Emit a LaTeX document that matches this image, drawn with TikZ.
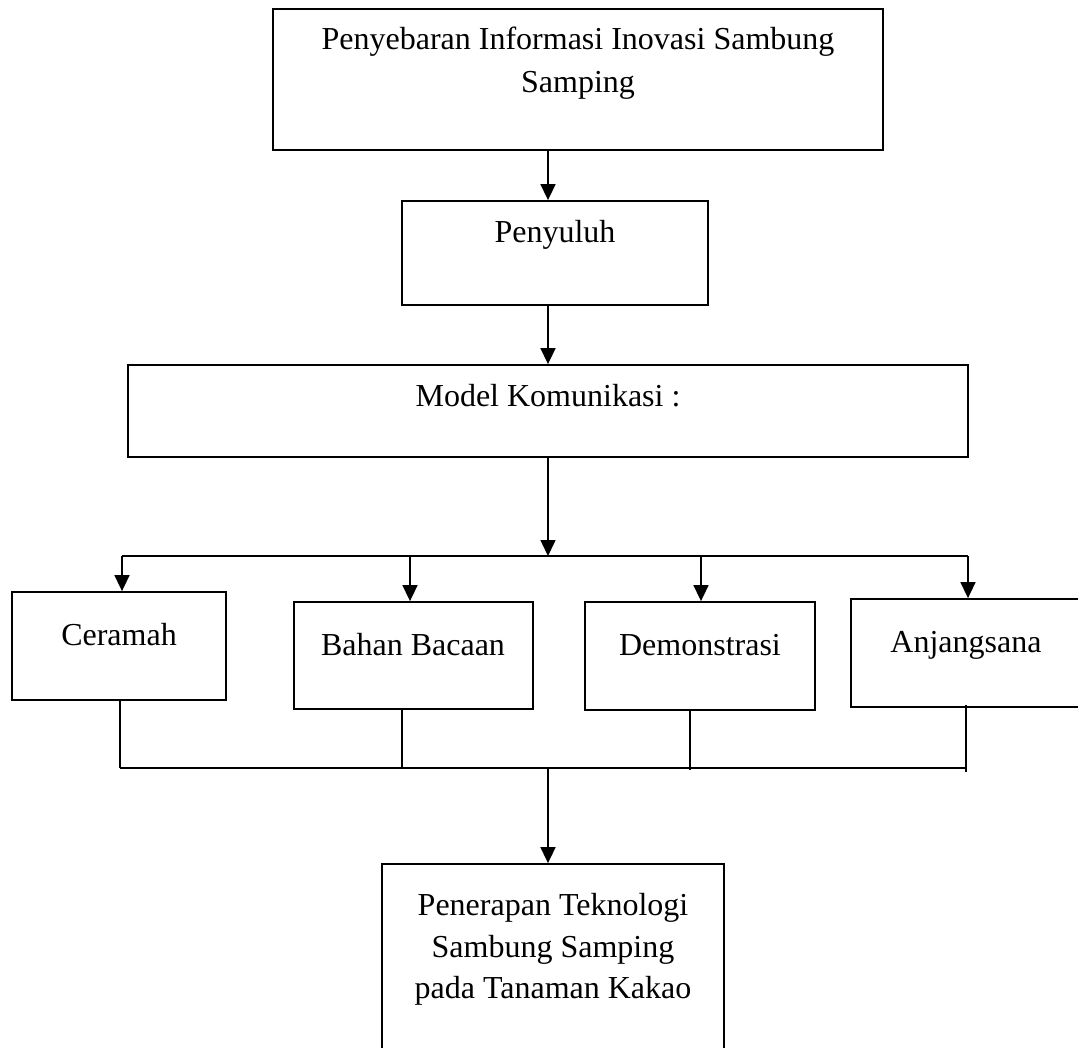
\documentclass[tikz,border=0pt]{standalone}
\usepackage{fontspec}
\setmainfont{Liberation Serif}
\usetikzlibrary{arrows.meta}
\tikzset{
  box/.style={draw, line width=1.8pt, rectangle, inner sep=0pt},
  txt/.style={inner sep=0pt, anchor=base, font=\fontsize{32}{40}\selectfont},
  arr/.style={line width=1.6pt, -{Triangle[width=15pt,length=16pt]}},
  ln/.style={line width=1.6pt},
}
\begin{document}
\begin{tikzpicture}[x=1pt,y=-1pt]
\useasboundingbox (0,0) rectangle (1078,1048);
\clip (0,0) rectangle (1078,1048);
\fill[white] (0,0) rectangle (1078,1048);
% boxes
\node[box, minimum width=610pt, minimum height=141pt] (top) at (578,79.5) {};
\node[box, minimum width=306pt, minimum height=104pt] (peny) at (555,253) {};
\node[box, minimum width=840pt, minimum height=92pt] (model) at (548,411) {};
\node[box, minimum width=214pt, minimum height=108pt] (cer) at (119,646) {};
\node[box, minimum width=239pt, minimum height=107pt] (bah) at (413.5,655.5) {};
\node[box, minimum width=230pt, minimum height=108pt] (dem) at (700,656) {};
\node[box, minimum width=239pt, minimum height=108pt] (anj) at (970.5,653) {};
\node[box, minimum width=342pt, minimum height=196pt] (bot) at (553,962) {};
% texts
\node[txt] (topa) at (578,50) {Penyebaran Informasi Inovasi Sambung};
\node[txt] (topb) at (578,93) {Samping};
\node[txt] (penyt) at (555,243) {Penyuluh};
\node[txt] (modelt) at (548,406) {Model Komunikasi :};
\node[txt] (cert) at (119,645) {Ceramah};
\node[txt] (baht) at (413,655) {Bahan Bacaan};
\node[txt] (demt) at (700,655) {Demonstrasi};
\node[txt] (anjt) at (966,652) {Anjangsana};
\node[txt] (bota) at (553,915) {Penerapan Teknologi};
\node[txt] (botb) at (553,957) {Sambung Samping};
\node[txt] (botc) at (553,998) {pada Tanaman Kakao};
% connector coordinates
\coordinate (ax) at (548,0);
\coordinate (split) at (548,556);
\coordinate (c1) at (122,556);
\coordinate (c2) at (410,556);
\coordinate (c3) at (701,556);
\coordinate (c4) at (968,556);
\coordinate (d1) at (120,768);
\coordinate (d2) at (402,768);
\coordinate (d3) at (690,768);
\coordinate (d4) at (966,768);
\coordinate (merge) at (548,768);
% connectors
\draw[arr] (top.south -| ax) -- (peny.north -| ax);
\draw[arr] (peny.south -| ax) -- (model.north -| ax);
\draw[arr] (model.south -| ax) -- (split);
\draw[ln] (c1) -- (c4);
\draw[arr] (c1) -- (c1 |- cer.north);
\draw[arr] (c2) -- (c2 |- bah.north);
\draw[arr] (c3) -- (c3 |- dem.north);
\draw[arr] (c4) -- (c4 |- anj.north);
\draw[ln] (d1 |- cer.south) -- (d1);
\draw[ln] (d2 |- bah.south) -- (d2);
\draw[ln] (d3 |- dem.south) -- ([yshift=-2pt]d3);
\draw[ln] ([yshift=3pt]d4 |- anj.south) -- ([yshift=-4pt]d4);
\draw[ln] (d1) -- (d4);
\draw[arr] (merge) -- (merge |- bot.north);
\end{tikzpicture}
\end{document}
